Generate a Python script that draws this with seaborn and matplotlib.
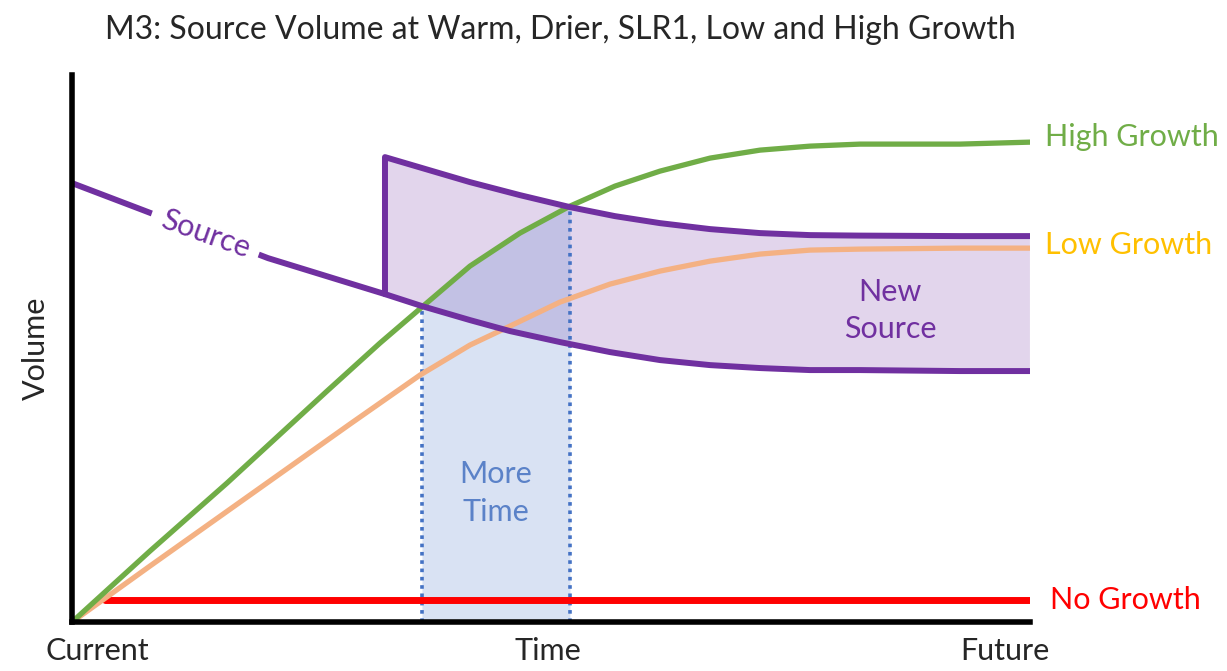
import numpy as np
import matplotlib
matplotlib.use("Agg")
import matplotlib.pyplot as plt
import seaborn as sns

# Conceptual curves (time 0-100, volume 0-100)
high_x = [0, 8.14, 16.18, 26.62, 32.15, 36.53, 41.54, 46.76, 51.98, 56.68, 61.38,
          66.60, 71.82, 77.04, 82.25, 92.69, 100]
high_y = [0, 12.98, 25.41, 42.23, 51.01, 57.59, 65.08, 71.12, 76.05, 79.71, 82.45,
          84.83, 86.29, 87.02, 87.39, 87.39, 87.75]

low_x = [0, 8.14, 18.58, 29.02, 36.33, 41.54, 45.72, 50.94, 56.16, 61.38, 66.60,
         71.82, 77.04, 82.25, 92.69, 100]
low_y = [0, 10.24, 23.22, 36.20, 45.16, 50.64, 54.11, 58.50, 61.79, 64.17, 65.99,
         67.28, 68.01, 68.19, 68.37, 68.37]

source_x = [0, 7.41, 20.46, 32.67, 36.53, 41.54, 45.72, 50.94, 56.16, 61.38, 66.60,
            71.82, 77.04, 82.25, 92.69, 100]
source_y = [80.26, 75.32, 66.54, 59.96, 57.77, 55.21, 53.20, 51.19, 49.36, 47.90, 46.98,
            46.44, 46.07, 46.07, 45.89, 45.89]

new_x = [32.67, 32.67, 41.54, 46.76, 51.98, 56.68, 61.38, 66.60, 71.82, 77.04, 82.25, 92.69, 100]
new_y = [59.96, 85.01, 80.44, 78.06, 75.87, 74.22, 72.94, 71.85, 71.12, 70.75, 70.66, 70.57, 70.57]

no_growth_x = [3.4, 100]
no_growth_y = [4.0, 4.0]

# "More Time" window: from Source meeting High Growth to New Source meeting High Growth
window_x = [36.53, 41.54, 46.76, 51.98]
window_top = [57.59, 65.08, 71.12, 76.05]

tick_pos = [2.6, 49.7, 97.4]
tick_labels = ["Current", "Time", "Future"]

GREEN = "#70ad47"
ORANGE = "#f4b183"
PURPLE = "#7030a0"
RED = "#ff0000"
BLUE = "#4472c4"

sns.set_style("white")
plt.rcParams["font.family"] = ["Lato", "DejaVu Sans"]

fig = plt.figure(figsize=(12.27, 6.71), dpi=100)
ax = fig.add_axes([0.0587, 0.073, 0.7807, 0.815])

# shaded areas
poly_x = new_x[1:] + source_x[3:][::-1]
poly_y = new_y[1:] + source_y[3:][::-1]
ax.fill(poly_x, poly_y, color=PURPLE, alpha=0.2, lw=0)
ax.fill_between(window_x, 0, window_top, color=BLUE, alpha=0.2, lw=0)
for xv, yv in zip([window_x[0], window_x[-1]], [window_top[0], window_top[-1]]):
    ax.plot([xv, xv], [0, yv], color=BLUE, lw=2.6, dashes=(1, 1.3))

sns.lineplot(x=no_growth_x, y=no_growth_y, ax=ax, color=RED, linewidth=5, estimator=None, sort=False)
sns.lineplot(x=low_x, y=low_y, ax=ax, color=ORANGE, linewidth=3.8, estimator=None, sort=False)
sns.lineplot(x=high_x, y=high_y, ax=ax, color=GREEN, linewidth=3.8, estimator=None, sort=False)
sns.lineplot(x=source_x, y=source_y, ax=ax, color=PURPLE, linewidth=4.3, estimator=None, sort=False)
sns.lineplot(x=new_x, y=new_y, ax=ax, color=PURPLE, linewidth=4.3, estimator=None, sort=False)

# labels
fs = 22
ax.text(13.9, 70.9, "Source", color=PURPLE, fontsize=fs, rotation=-19.6,
        ha="center", va="center",
        bbox=dict(facecolor="white", edgecolor="none", pad=8))
ax.text(85.4, 57.0, "New\nSource", color=PURPLE, fontsize=fs, ha="center", va="center",
        linespacing=1.4)
ax.text(44.2, 23.6, "More\nTime", color="#5b82c8", fontsize=fs, ha="center", va="center",
        linespacing=1.4)
ax.text(101.6, 88.7, "High Growth", color=GREEN, fontsize=fs, va="center", clip_on=False)
ax.text(101.6, 68.9, "Low Growth", color="#ffc000", fontsize=fs, va="center", clip_on=False)
ax.text(102.1, 4.0, "No Growth", color=RED, fontsize=fs, va="center", clip_on=False)

ax.set_xlim(0, 100)
ax.set_ylim(0, 100)
ax.set_xticks(tick_pos)
ax.set_xticklabels(tick_labels, fontsize=22)
ax.set_yticks([])
ax.tick_params(axis="x", length=0, pad=11)
ax.set_ylabel("Volume", fontsize=fs, labelpad=16)
ax.set_xlabel("")
sns.despine(ax=ax)
for side in ["left", "bottom"]:
    ax.spines[side].set_linewidth(4)
    ax.spines[side].set_color("black")

fig.text(0.457, 0.955, "M3: Source Volume at Warm, Drier, SLR1, Low and High Growth",
         fontsize=23, ha="center", va="center")

fig.savefig("out.png", dpi=100)
